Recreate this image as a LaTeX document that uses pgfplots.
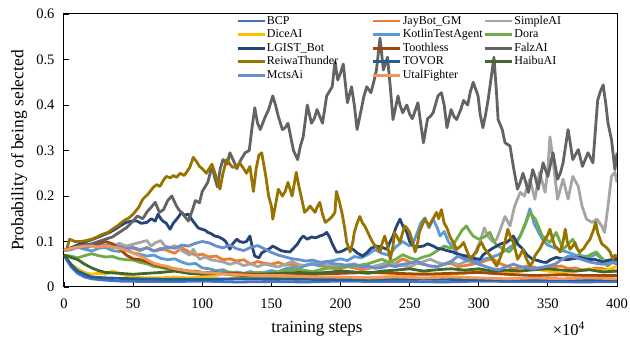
\documentclass[border=0pt]{standalone}
\usepackage{fontspec}
\setmainfont{Liberation Serif}
\usepackage{pgfplots}
\pgfplotsset{compat=1.18}
\definecolor{cBCP}{HTML}{4472C4}
\definecolor{cJay}{HTML}{ED7D31}
\definecolor{cSimple}{HTML}{A5A5A5}
\definecolor{cDice}{HTML}{FFC000}
\definecolor{cKotlin}{HTML}{5B9BD5}
\definecolor{cDora}{HTML}{70AD47}
\definecolor{cLGIST}{HTML}{264478}
\definecolor{cTooth}{HTML}{9E480E}
\definecolor{cFalz}{HTML}{636363}
\definecolor{cReiwa}{HTML}{997300}
\definecolor{cTOVOR}{HTML}{255E91}
\definecolor{cHaibu}{HTML}{43682B}
\definecolor{cMcts}{HTML}{698ED0}
\definecolor{cUtal}{HTML}{F1975A}
\newcommand{\lb}[1]{\makebox[104pt][l]{#1}}
\tikzset{lw/.style={line width=2.8pt, line join=round, mark=none}}
\begin{document}
\begin{tikzpicture}
\begin{axis}[
  at={(0pt,0pt)}, anchor=south west,
  scale only axis, width=553pt, height=273pt,
  xmin=0, xmax=400, ymin=0, ymax=0.6,
  clip mode=individual,
  xtick={0,50,100,150,200,250,300,350,400},
  ytick={0,0.1,0.2,0.3,0.4,0.5,0.6},
  tick align=inside, xtick pos=bottom, ytick pos=left,
  major tick length=5pt,
  axis line style={line width=1pt},
  tick style={black, line width=0.8pt},
  /pgf/number format/assume math mode=true,
  ticklabel style={font=\fontsize{14.5}{16}\selectfont},
  yticklabel style={/pgf/number format/fixed, /pgf/number format/precision=1, xshift=-6pt},
  xticklabel style={yshift=-8pt},
  scaled x ticks=false, scaled y ticks=false,
  xlabel={training steps},
  xlabel style={at={(axis description cs:0.4575,-0.152)}, anchor=center, font=\fontsize{17}{19}\selectfont},
  ylabel={Probability of being selected},
  ylabel style={at={(axis description cs:-0.0814,0.5)}, anchor=center, font=\fontsize{17.5}{19}\selectfont},
  legend columns=3,
  legend cell align=left,
  legend image code/.code={\draw[line width=2.8pt] (0pt,0pt) -- (27pt,0pt);},
  legend style={at={(axis description cs:0.311,1)}, anchor=north west, draw=none, fill=none,
    font=\fontsize{12}{13}\selectfont, inner sep=0pt, row sep=0pt, column sep=0pt,
    nodes={inner xsep=1pt, inner ysep=1pt, text height=8.8pt, text depth=2.8pt}},
]
% BCP
\addplot[cBCP, lw] coordinates {(0,0.07) (5,0.045) (10,0.03) (15,0.022) (20,0.018) (30,0.015) (40,0.013) (60,0.012) (80,0.012) (100,0.013) (125,0.011) (150,0.012) (175,0.011) (200,0.013) (225,0.012) (250,0.012) (275,0.011) (300,0.013) (325,0.012) (350,0.012) (375,0.011) (400,0.012)};
\addlegendentry{\lb{BCP}}
% JayBot_GM
\addplot[cJay, lw] coordinates {(0,0.08) (5,0.085) (10,0.088) (15,0.094) (20,0.09) (25,0.092) (30,0.086) (35,0.09) (40,0.093) (45,0.088) (50,0.085) (55,0.08) (60,0.087) (65,0.079) (70,0.085) (75,0.08) (80,0.074) (85,0.086) (90,0.078) (95,0.07) (100,0.072) (105,0.066) (110,0.068) (115,0.06) (120,0.062) (125,0.057) (130,0.06) (135,0.05) (140,0.056) (145,0.052) (150,0.05) (155,0.054) (160,0.048) (165,0.05) (170,0.044) (175,0.048) (180,0.052) (185,0.046) (190,0.045) (195,0.041) (200,0.04) (205,0.045) (210,0.042) (215,0.038) (220,0.04) (225,0.046) (230,0.045) (235,0.05) (240,0.052) (245,0.062) (250,0.055) (255,0.052) (260,0.05) (265,0.046) (270,0.045) (275,0.05) (280,0.052) (285,0.045) (290,0.047) (295,0.05) (300,0.052) (305,0.058) (310,0.062) (315,0.052) (320,0.046) (325,0.04) (330,0.042) (335,0.046) (340,0.044) (345,0.038) (350,0.04) (355,0.045) (360,0.046) (365,0.04) (370,0.042) (375,0.037) (380,0.038) (385,0.042) (390,0.04) (395,0.036) (400,0.035)};
\addlegendentry{JayBot\_GM}
% SimpleAI
\addplot[cSimple, lw] coordinates {(0,0.08) (5,0.085) (10,0.09) (15,0.087) (20,0.092) (25,0.088) (30,0.093) (35,0.09) (40,0.096) (45,0.09) (50,0.094) (55,0.098) (60,0.102) (63,0.09) (66,0.097) (70,0.102) (73,0.09) (76,0.085) (80,0.091) (84,0.082) (88,0.075) (91,0.07) (93.5,0.083) (96,0.07) (98,0.061) (102,0.066) (106,0.06) (110,0.058) (115,0.055) (120,0.05) (125,0.054) (130,0.047) (135,0.051) (140,0.045) (145,0.05) (150,0.047) (155,0.044) (160,0.05) (165,0.056) (170,0.049) (175,0.047) (180,0.053) (185,0.055) (190,0.049) (195,0.047) (200,0.044) (205,0.049) (210,0.051) (215,0.045) (220,0.041) (225,0.046) (230,0.05) (235,0.056) (240,0.05) (245,0.047) (250,0.044) (255,0.051) (260,0.056) (265,0.061) (270,0.054) (275,0.05) (280,0.056) (285,0.049) (290,0.055) (295,0.06) (298,0.08) (301,0.1) (304,0.13) (307,0.11) (310,0.1) (313,0.105) (316,0.13) (319,0.155) (322.6,0.134) (326,0.178) (330,0.208) (333,0.2) (337,0.237) (340.6,0.193) (344,0.252) (348,0.208) (350,0.26) (351.5,0.33) (353.7,0.28) (357,0.193) (361,0.237) (364.6,0.193) (368,0.243) (372,0.221) (374.7,0.178) (378,0.149) (382,0.142) (385.5,0.149) (389,0.134) (391,0.12) (393.5,0.178) (396,0.243) (398.5,0.252) (400,0.23)};
\addlegendentry{SimpleAI}
% DiceAI
\addplot[cDice, lw] coordinates {(0,0.07) (5,0.05) (10,0.04) (15,0.032) (20,0.028) (25,0.03) (30,0.028) (35,0.035) (40,0.03) (45,0.025) (50,0.022) (60,0.02) (70,0.02) (80,0.022) (90,0.02) (100,0.022) (110,0.025) (115,0.03) (120,0.028) (125,0.022) (130,0.02) (150,0.018) (170,0.02) (190,0.018) (210,0.02) (230,0.022) (250,0.025) (260,0.03) (270,0.025) (280,0.028) (290,0.03) (300,0.035) (310,0.03) (320,0.032) (330,0.035) (340,0.04) (350,0.035) (360,0.03) (370,0.035) (380,0.04) (390,0.035) (400,0.045)};
\addlegendentry{\lb{DiceAI}}
% KotlinTestAgent
\addplot[cKotlin, lw] coordinates {(0,0.08) (5,0.082) (10,0.088) (15,0.083) (20,0.079) (25,0.085) (30,0.087) (35,0.08) (40,0.078) (45,0.082) (50,0.075) (55,0.072) (60,0.068) (65,0.07) (70,0.063) (75,0.06) (80,0.062) (85,0.055) (90,0.05) (95,0.052) (100,0.042) (105,0.04) (110,0.036) (115,0.038) (120,0.031) (125,0.033) (130,0.03) (135,0.034) (140,0.029) (145,0.032) (150,0.036) (155,0.033) (160,0.04) (165,0.043) (170,0.04) (175,0.048) (180,0.05) (185,0.047) (190,0.056) (195,0.058) (200,0.062) (205,0.058) (210,0.067) (215,0.064) (220,0.072) (225,0.082) (230,0.074) (235,0.07) (240,0.088) (245,0.1) (250,0.09) (253,0.1) (255,0.115) (258,0.14) (261,0.152) (264,0.13) (267,0.149) (270,0.13) (272,0.112) (275,0.122) (278,0.1) (281,0.088) (285,0.072) (290,0.066) (295,0.06) (300,0.056) (305,0.062) (310,0.066) (315,0.072) (320,0.082) (325,0.092) (330,0.112) (334,0.142) (337,0.172) (340,0.14) (343,0.122) (347,0.1) (350,0.092) (355,0.086) (360,0.08) (365,0.076) (370,0.07) (375,0.068) (380,0.066) (385,0.072) (390,0.06) (395,0.056) (400,0.05)};
\addlegendentry{KotlinTestAgent}
% Dora
\addplot[cDora, lw] coordinates {(0,0.07) (5,0.068) (10,0.064) (15,0.069) (20,0.073) (25,0.069) (30,0.066) (35,0.067) (40,0.062) (45,0.06) (50,0.059) (55,0.054) (60,0.051) (65,0.045) (70,0.043) (75,0.039) (80,0.037) (85,0.036) (90,0.034) (95,0.035) (100,0.032) (110,0.03) (120,0.033) (130,0.029) (140,0.032) (150,0.03) (160,0.036) (170,0.038) (180,0.034) (190,0.041) (200,0.043) (210,0.046) (220,0.051) (225,0.056) (230,0.061) (235,0.054) (240,0.061) (245,0.071) (250,0.064) (255,0.06) (260,0.066) (265,0.07) (270,0.08) (275,0.09) (280,0.085) (285,0.11) (288,0.125) (291,0.134) (294,0.12) (296,0.112) (300,0.105) (304,0.11) (308,0.12) (311,0.1) (313,0.092) (317,0.085) (322,0.077) (326,0.09) (330,0.112) (334,0.14) (337,0.164) (341,0.149) (346,0.112) (351.5,0.098) (356,0.12) (361,0.083) (365,0.095) (368,0.105) (372,0.08) (375,0.061) (380,0.07) (385,0.077) (390,0.06) (393,0.046) (397,0.055) (400,0.07)};
\addlegendentry{Dora}
% LGIST_Bot
\addplot[cLGIST, lw] coordinates {(0,0.08) (4,0.085) (8,0.09) (12,0.095) (16,0.1) (21,0.105) (25,0.11) (29,0.115) (33,0.12) (37,0.127) (41,0.135) (45,0.142) (49,0.145) (52.6,0.145) (56,0.14) (60,0.142) (63,0.15) (66,0.145) (68,0.16) (70,0.15) (71.5,0.145) (74,0.14) (76.7,0.127) (79,0.14) (81.5,0.149) (83,0.155) (85,0.164) (87,0.158) (90,0.16) (92,0.15) (95,0.138) (97,0.13) (99.6,0.127) (102,0.125) (104,0.12) (106,0.118) (109,0.112) (112,0.11) (115,0.105) (117,0.1) (120,0.083) (122,0.095) (125,0.105) (127,0.1) (129.6,0.098) (132,0.1) (134.5,0.112) (136,0.09) (138,0.068) (141,0.064) (143,0.075) (146,0.08) (149,0.085) (151,0.09) (154,0.085) (157,0.08) (160,0.078) (163.5,0.077) (166,0.085) (169,0.095) (171,0.105) (173,0.112) (176,0.105) (179,0.11) (182,0.108) (185,0.112) (188,0.115) (190,0.12) (192,0.11) (194,0.095) (197,0.077) (199.6,0.077) (202,0.08) (205,0.085) (209,0.083) (212,0.075) (216,0.068) (219,0.075) (222,0.085) (226,0.09) (230,0.087) (233.6,0.083) (236,0.1) (238,0.112) (240,0.13) (243,0.149) (245,0.135) (248,0.12) (250,0.1) (252.6,0.09) (256,0.088) (260,0.09) (263,0.095) (267,0.09) (270,0.085) (274,0.083) (277,0.08) (281,0.077) (285,0.072) (288,0.07) (291,0.068) (295,0.065) (298,0.062) (301,0.061) (303,0.07) (306,0.077) (310,0.085) (313,0.09) (316,0.095) (320,0.098) (323,0.105) (325,0.112) (328,0.095) (332,0.083) (335,0.07) (339,0.061) (343,0.058) (346,0.055) (349,0.054) (352,0.06) (356,0.065) (360,0.062) (363,0.06) (366,0.061) (370,0.063) (373,0.065) (377,0.062) (380,0.06) (383,0.061) (387,0.058) (390,0.054) (393,0.058) (397,0.061) (400,0.06)};
\addlegendentry{\lb{LGIST\_Bot}}
% Toothless
\addplot[cTooth, lw] coordinates {(0,0.08) (5,0.085) (10,0.088) (15,0.09) (20,0.092) (25,0.095) (30,0.1) (35,0.095) (40,0.085) (45,0.07) (50,0.062) (55,0.06) (60,0.055) (65,0.05) (70,0.045) (80,0.04) (90,0.035) (100,0.032) (120,0.03) (140,0.028) (160,0.03) (180,0.028) (200,0.03) (220,0.032) (240,0.03) (260,0.028) (280,0.03) (300,0.032) (320,0.028) (340,0.025) (360,0.027) (380,0.025) (400,0.025)};
\addlegendentry{Toothless}
% FalzAI
\addplot[cFalz, lw] coordinates {(0,0.08) (5,0.085) (10,0.09) (15,0.092) (20,0.095) (25,0.1) (30,0.105) (35,0.11) (40,0.12) (45,0.13) (50,0.145) (53,0.156) (57,0.15) (60,0.165) (63,0.175) (66,0.186) (69,0.164) (72,0.17) (75,0.19) (78,0.2) (81,0.18) (83,0.17) (86,0.16) (90,0.145) (93,0.17) (95,0.19) (98,0.185) (100,0.21) (104,0.23) (107,0.265) (109,0.24) (111,0.22) (113,0.26) (115,0.28) (118,0.27) (120,0.295) (123,0.275) (125,0.26) (128,0.28) (131,0.295) (134,0.3) (136,0.35) (138,0.394) (140,0.36) (142,0.346) (145,0.37) (148,0.39) (151,0.42) (153,0.4) (155,0.375) (158,0.346) (160,0.35) (162,0.36) (164,0.33) (166,0.3) (169,0.28) (171,0.31) (173,0.33) (176,0.4) (179,0.36) (181,0.37) (183,0.39) (185,0.375) (187,0.36) (190,0.42) (192,0.43) (194,0.44) (196,0.495) (198,0.455) (200,0.47) (202,0.49) (205,0.405) (208,0.44) (210,0.4) (212,0.346) (215,0.39) (217,0.42) (219,0.44) (222,0.427) (224,0.45) (226,0.477) (228.6,0.547) (231,0.477) (234,0.505) (236,0.44) (238,0.368) (241.6,0.42) (243,0.4) (245,0.383) (248,0.4) (250,0.38) (252,0.37) (256,0.405) (258,0.36) (260,0.317) (263,0.37) (265,0.375) (267,0.383) (270.5,0.42) (273,0.427) (275,0.4) (277,0.35) (280,0.39) (282,0.375) (284,0.368) (287,0.39) (289,0.41) (292,0.4) (294,0.43) (296,0.45) (299.5,0.42) (301,0.38) (303,0.35) (305,0.38) (306.7,0.41) (309,0.46) (311,0.505) (313,0.42) (314,0.368) (317,0.346) (319,0.317) (322.6,0.31) (325,0.265) (328,0.215) (330,0.23) (332,0.25) (334,0.23) (336,0.208) (339,0.258) (341,0.24) (343,0.215) (346.5,0.273) (350,0.243) (353.7,0.295) (357,0.237) (359,0.25) (361,0.273) (364.6,0.346) (366,0.32) (368,0.28) (372,0.302) (375,0.265) (379,0.295) (382.6,0.273) (384,0.33) (386,0.41) (388,0.43) (390,0.444) (392,0.4) (393.5,0.36) (396,0.324) (398.5,0.258) (400,0.295)};
\addlegendentry{FalzAI}
% ReiwaThunder
\addplot[cReiwa, lw] coordinates {(0,0.08) (2,0.083) (4,0.105) (8,0.1) (12,0.1) (16,0.102) (20,0.105) (24,0.11) (28,0.116) (32,0.12) (35,0.127) (39,0.135) (43,0.145) (47,0.152) (50,0.16) (54,0.175) (57,0.193) (61,0.205) (64.6,0.219) (67,0.225) (69.4,0.221) (72,0.235) (74,0.243) (77,0.24) (79,0.245) (81.5,0.241) (84,0.25) (87,0.245) (91,0.263) (93.5,0.285) (96,0.275) (98,0.265) (100,0.26) (103,0.25) (105,0.26) (107,0.27) (110,0.243) (112.8,0.215) (115,0.25) (117.6,0.28) (120,0.27) (122,0.263) (125,0.265) (127,0.273) (130,0.26) (132,0.25) (134.5,0.265) (137,0.21) (139,0.26) (141,0.29) (143,0.295) (146,0.243) (148,0.2) (150,0.178) (151,0.149) (153,0.18) (155,0.215) (158,0.2) (160,0.21) (162,0.23) (165,0.2) (168,0.252) (170,0.22) (172,0.193) (174,0.164) (176,0.17) (178,0.178) (180,0.17) (181.6,0.164) (183,0.175) (185,0.186) (187,0.16) (189,0.142) (192,0.149) (194,0.155) (196,0.164) (197,0.21) (199,0.19) (201,0.164) (203,0.13) (204.5,0.098) (207,0.077) (209,0.1) (210,0.12) (212,0.14) (214,0.155) (216,0.14) (217.6,0.134) (219,0.125) (221,0.112) (223,0.1) (225,0.09) (227,0.085) (228.6,0.077) (230,0.095) (232,0.112) (234,0.09) (236,0.061) (238,0.09) (239,0.12) (241,0.11) (243,0.098) (245,0.12) (246.6,0.134) (248,0.13) (250,0.12) (252,0.1) (254,0.077) (256,0.1) (257,0.12) (259,0.135) (261,0.149) (263,0.14) (264,0.134) (267,0.15) (269.5,0.164) (271,0.15) (273,0.17) (275,0.14) (277,0.13) (279,0.112) (282,0.095) (284,0.083) (287,0.09) (289,0.098) (292,0.075) (294,0.061) (296,0.07) (298.5,0.077) (300,0.09) (302,0.098) (304,0.085) (306,0.077) (308,0.07) (311,0.055) (313,0.046) (315,0.06) (317,0.077) (319,0.1) (321,0.127) (323,0.11) (325,0.098) (327,0.075) (328,0.061) (330,0.07) (332,0.083) (334,0.065) (337,0.046) (339,0.055) (340.6,0.068) (342,0.075) (344,0.083) (346,0.095) (348,0.105) (350,0.115) (351.5,0.127) (353,0.11) (355,0.09) (357,0.085) (359,0.077) (361,0.1) (362.6,0.127) (364,0.1) (366,0.083) (368,0.09) (369.6,0.098) (371,0.085) (373,0.077) (376,0.085) (378,0.095) (380.5,0.105) (383,0.125) (384.6,0.142) (386,0.12) (387.7,0.105) (389,0.095) (391,0.09) (393,0.085) (395,0.077) (397,0.061) (398.5,0.07) (400,0.065)};
\addlegendentry{\lb{ReiwaThunder}}
% TOVOR
\addplot[cTOVOR, lw] coordinates {(0,0.07) (5,0.05) (10,0.035) (15,0.028) (20,0.022) (30,0.02) (50,0.018) (75,0.017) (100,0.017) (125,0.018) (150,0.018) (175,0.017) (200,0.016) (225,0.017) (250,0.018) (275,0.017) (300,0.016) (325,0.017) (350,0.017) (375,0.016) (400,0.016)};
\addlegendentry{TOVOR}
% HaibuAI
\addplot[cHaibu, lw] coordinates {(0,0.07) (5,0.065) (10,0.06) (15,0.05) (20,0.042) (25,0.036) (30,0.032) (40,0.03) (50,0.028) (60,0.03) (70,0.032) (80,0.035) (90,0.03) (100,0.028) (110,0.03) (120,0.028) (130,0.025) (140,0.027) (150,0.028) (160,0.03) (170,0.032) (180,0.03) (190,0.032) (200,0.035) (210,0.033) (220,0.03) (230,0.035) (240,0.037) (250,0.04) (260,0.035) (270,0.038) (280,0.04) (290,0.037) (300,0.04) (310,0.035) (320,0.037) (330,0.035) (340,0.038) (350,0.04) (360,0.037) (370,0.035) (380,0.038) (390,0.033) (400,0.035)};
\addlegendentry{HaibuAI}
% MctsAi
\addplot[cMcts, lw] coordinates {(0,0.08) (5,0.083) (10,0.087) (15,0.084) (20,0.091) (25,0.088) (30,0.092) (35,0.087) (40,0.089) (45,0.084) (50,0.087) (55,0.082) (60,0.086) (65,0.079) (70,0.082) (75,0.088) (80,0.085) (85,0.092) (90,0.09) (95,0.096) (100,0.1) (105,0.097) (110,0.09) (115,0.086) (120,0.092) (125,0.084) (130,0.08) (135,0.087) (140,0.091) (145,0.084) (150,0.076) (155,0.07) (160,0.066) (165,0.062) (170,0.06) (175,0.057) (180,0.059) (185,0.054) (190,0.056) (195,0.051) (200,0.05) (205,0.047) (210,0.049) (215,0.044) (220,0.046) (225,0.041) (230,0.043) (235,0.047) (240,0.045) (245,0.05) (250,0.052) (255,0.057) (260,0.05) (265,0.046) (270,0.045) (275,0.05) (280,0.056) (285,0.068) (290,0.06) (295,0.056) (300,0.05) (305,0.045) (310,0.04) (315,0.038) (320,0.045) (325,0.05) (330,0.045) (335,0.042) (340,0.04) (345,0.043) (350,0.046) (355,0.05) (360,0.06) (365,0.068) (370,0.065) (375,0.06) (380,0.055) (385,0.052) (390,0.05) (395,0.053) (400,0.055)};
\addlegendentry{\lb{MctsAi}}
% UtalFighter
\addplot[cUtal, lw] coordinates {(0,0.08) (5,0.085) (10,0.088) (15,0.09) (20,0.09) (25,0.088) (30,0.09) (35,0.088) (40,0.085) (45,0.08) (50,0.075) (55,0.068) (60,0.06) (65,0.052) (70,0.048) (75,0.045) (80,0.04) (90,0.035) (100,0.032) (110,0.03) (120,0.028) (140,0.025) (160,0.025) (180,0.022) (200,0.022) (220,0.02) (240,0.022) (260,0.02) (280,0.022) (300,0.02) (320,0.018) (340,0.02) (360,0.018) (380,0.02) (400,0.018)};
\addlegendentry{UtalFighter}
\node[font=\fontsize{16.5}{18}\selectfont, anchor=center] at (axis description cs:0.913,-0.152) {×10\textsuperscript{4}};
\end{axis}
\pgfresetboundingbox
\path[use as bounding box] (-64pt,-57pt) rectangle (566pt,287pt);
\end{tikzpicture}
\end{document}
